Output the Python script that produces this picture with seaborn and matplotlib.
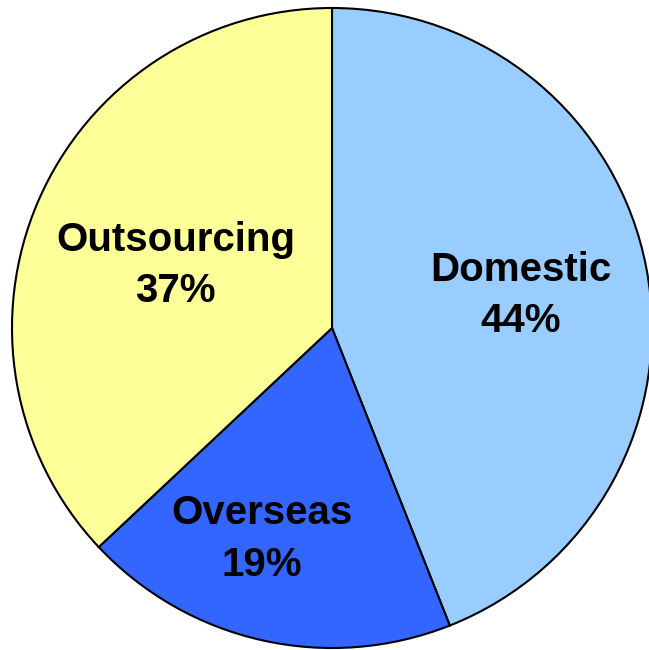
import numpy as np
import matplotlib
matplotlib.use("Agg")
import matplotlib.pyplot as plt
import seaborn as sns

categories = ["Domestic", "Overseas", "Outsourcing"]
shares = [44, 19, 37]
colors = ["#99CCFF", "#3366FF", "#FFFF99"]

sns.set_theme(style="white")
plt.rcParams["font.family"] = ["Liberation Sans", "DejaVu Sans"]

fig = plt.figure(figsize=(6.49, 6.50), dpi=100)
ax = fig.add_axes([0, 0, 1, 1])
wedges, _ = ax.pie(shares, colors=colors, startangle=90, counterclock=False,
                   radius=1.0, center=(0, 0),
                   wedgeprops=dict(edgecolor="black", linewidth=1.5))

# label placement (distance from centre, angular tweak in degrees)
label_dist = [0.60, 0.685, 0.53]
label_shift = [0.0, -6.0, 0.5]
for w, name, val, d, s in zip(wedges, categories, shares, label_dist, label_shift):
    mid = np.deg2rad((w.theta1 + w.theta2) / 2 + s)
    x, y = d * np.cos(mid), d * np.sin(mid) - 0.01
    ax.text(x, y, f"{name}\n{val}%", ha="center", va="center",
            fontsize=29, fontweight="bold", color="black", linespacing=1.44)

ax.set_xlim(-1.0375, 0.9906)
ax.set_ylim(-1.00625, 1.025)
ax.set_aspect("equal")
ax.axis("off")
fig.savefig("out.png", dpi=100)
